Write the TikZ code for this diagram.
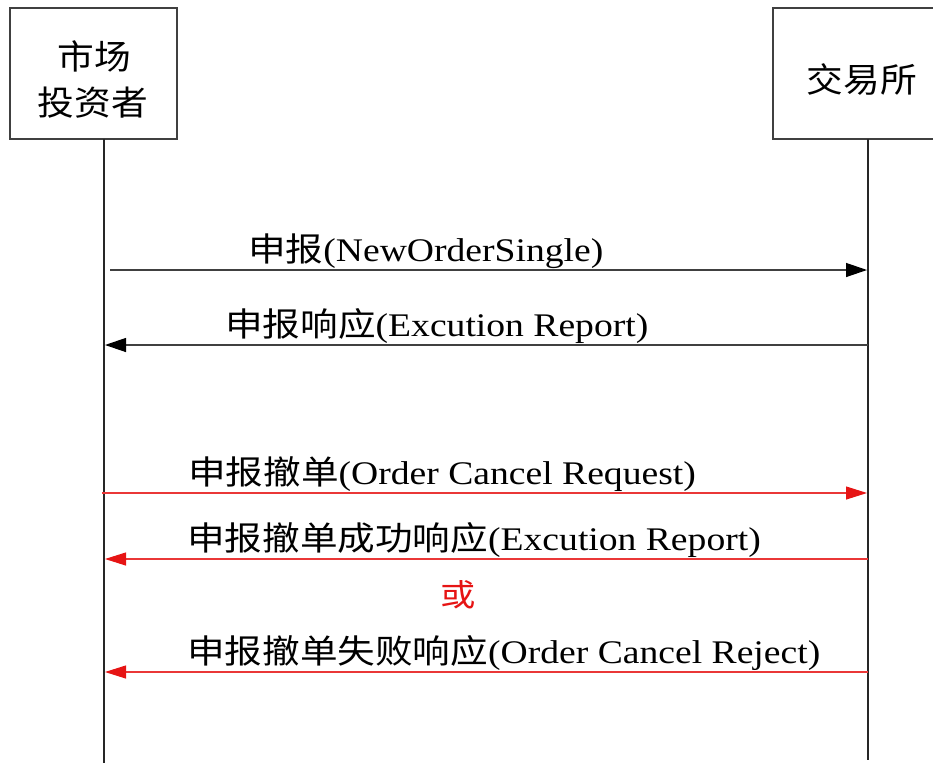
\documentclass[tikz,border=0pt]{standalone}
\usepackage{fontspec}
\setmainfont{Liberation Serif}
\newfontfamily\cjk{Noto Sans CJK SC}
\usepackage{graphicx}
\usetikzlibrary{arrows.meta}
\definecolor{myred}{RGB}{230,20,20}
\newcommand{\xs}[1]{\scalebox{1.14}[1]{#1}}
\newcommand{\xb}[1]{\scalebox{1.08}[1]{#1}}
\tikzset{
  lbl/.style={inner sep=0pt, anchor=base west, font=\fontsize{33}{38}\selectfont},
  boxtext/.style={inner sep=0pt, font=\fontsize{34}{40}\selectfont\cjk},
  life/.style={line width=2pt, black!85},
  msg/.style={line width=1.3pt, black!75, -{Triangle[length=21pt,width=14pt,color=black]}},
  rmsg/.style={line width=1.1pt, myred!85, -{Triangle[length=21pt,width=13pt,color=myred]}},
  actor/.style={draw=black!75, line width=1.5pt, inner sep=0pt}
}
\begin{document}
\begin{tikzpicture}[x=1pt,y=-1pt]
\useasboundingbox (0,0) rectangle (933,763);
% actor boxes
\node[actor, minimum width=167pt, minimum height=131pt] (inv) at (93.5,73.5) {};
\node[actor, minimum width=180pt, minimum height=131pt] (ex) at (863,73.5) {};
\node[boxtext] (invA) at (94,56) {\xb{市场}};
\node[boxtext] (invB) at (93,103) {\xb{投资者}};
\node[boxtext] (exA) at (862,80) {\xb{交易所}};
% lifelines
\coordinate (invTop) at (104,139);
\coordinate (invBot) at (104,763);
\coordinate (exTop) at (868,139);
\coordinate (exBot) at (868,760);
\draw[life] (invTop) -- (invBot);
\draw[life] (exTop) -- (exBot);
% message endpoints
\coordinate (m1s) at (110,270); \coordinate (m1e) at (867,270);
\coordinate (m2s) at (868,345); \coordinate (m2e) at (105,345);
\coordinate (m3s) at (102,493); \coordinate (m3e) at (867,493);
\coordinate (m4s) at (868,559); \coordinate (m4e) at (105,559);
\coordinate (m5s) at (868,672); \coordinate (m5e) at (105,672);
\draw[msg] (m1s) -- (m1e);
\draw[msg] (m2s) -- (m2e);
\draw[rmsg] (m3s) -- (m3e);
\draw[rmsg] (m4s) -- (m4e);
\draw[rmsg] (m5s) -- (m5e);
% labels
\node[lbl] (l1) at (248,261) {\xs{{\cjk 申报}(NewOrderSingle)}};
\node[lbl] (l2) at (225,336) {\xs{{\cjk 申报响应}(Excution Report)}};
\node[lbl] (l3) at (188,484) {\xs{{\cjk 申报撤单}(Order Cancel Request)}};
\node[lbl] (l4) at (187,550) {\xs{{\cjk 申报撤单成功响应}(Excution Report)}};
\node[lbl] (l5) at (187,663) {\xs{{\cjk 申报撤单失败响应}(Order Cancel Reject)}};
\node[boxtext, font=\fontsize{31}{36}\selectfont\cjk, text=myred] (or) at (458,595) {\xs{或}};
\end{tikzpicture}
\end{document}
